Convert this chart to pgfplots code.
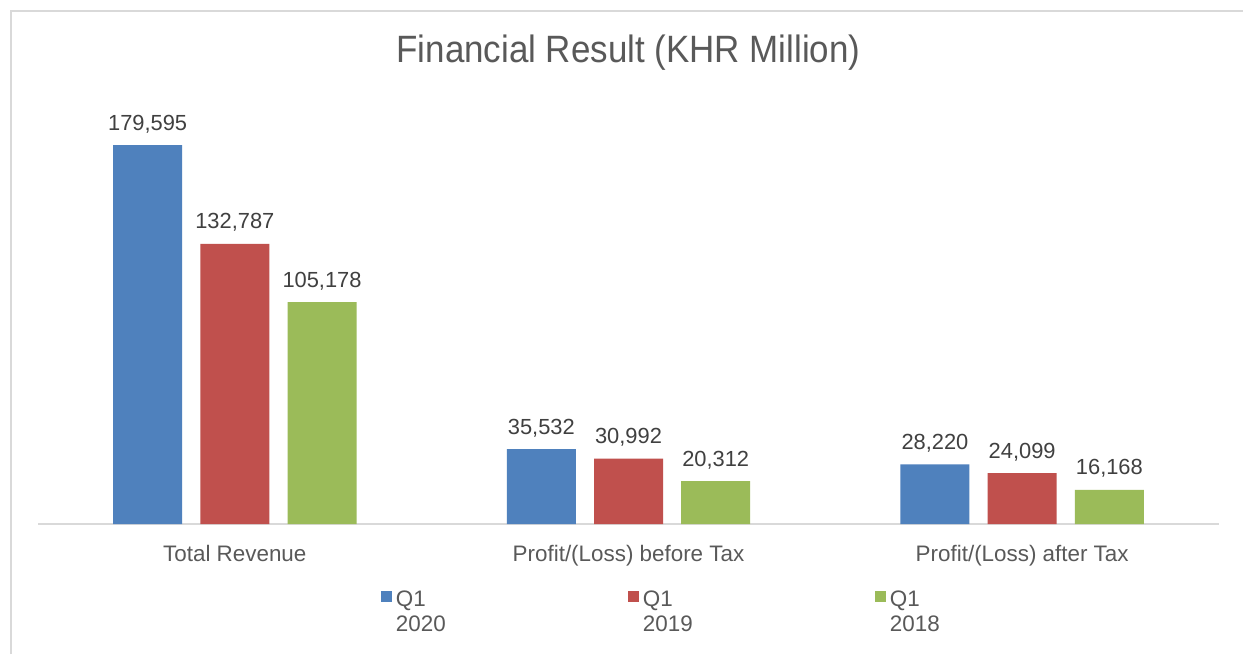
\documentclass[border=0pt]{standalone}
\usepackage{pgfplots}
\pgfplotsset{compat=1.18}
\usepackage{fontspec}
\setmainfont{Liberation Sans}
\usepackage{graphicx}
\definecolor{cblue}{HTML}{4F81BD}
\definecolor{cred}{HTML}{C0504D}
\definecolor{cgreen}{HTML}{9BBB59}
\definecolor{txtgray}{HTML}{595959}
\definecolor{lblgray}{HTML}{404040}
\definecolor{linegray}{HTML}{D9D9D9}
\newcommand{\vs}[1]{\scalebox{1}[1.09]{#1}}
\newcommand{\legtxt}[2]{\makebox[150pt][l]{\begin{tabular}[t]{@{}l@{}}#1\\#2\end{tabular}}}
\begin{document}
\begin{tikzpicture}
\fill[white] (0,0) rectangle (932.25pt,490.5pt);
\useasboundingbox (0,0) rectangle (932.25pt,490.5pt);
\draw[linegray, line width=1.5pt] (7.9pt,0) -- (7.9pt,482.25pt) -- (932.25pt,482.25pt);
\begin{axis}[
  at={(28.5pt,97.5pt)}, anchor=south west,
  scale only axis, width=885.75pt, height=316.5pt,
  xmin=-0.5, xmax=2.5, ymin=0, ymax=200000,
  hide y axis,
  axis x line*=bottom,
  x axis line style={-, draw=linegray, line width=1.1pt},
  xtick={0,1,2},
  xticklabels={Total Revenue,Profit/(Loss) before Tax,Profit/(Loss) after Tax},
  major tick length=0pt,
  xticklabel style={anchor=base, yshift=-27.75pt, inner sep=0pt, text=txtgray, font=\fontsize{16.8pt}{19pt}\selectfont},
  title={\vs{Financial Result (KHR Million)}},
  title style={at={(axis description cs:0.5,1.0737)}, anchor=base, inner sep=0pt, text=txtgray, font=\fontsize{26.2pt}{30pt}\selectfont},
  bar width=51.75pt,
  nodes near coords,
  every node near coord/.append style={/pgf/number format/fixed, /pgf/number format/precision=0, /pgf/number format/1000 sep={,},
    /pgf/number format/assume math mode=true,
    anchor=base, yshift=11.25pt, inner sep=0pt, text=lblgray, font=\fontsize{16.4pt}{19pt}\selectfont},
  legend columns=3,
  legend style={at={(axis description cs:0.2904,-0.1528)}, anchor=north west, draw=none, fill=none, inner sep=0pt, outer sep=0pt,
    font=\fontsize{16.8pt}{19pt}\selectfont, text=txtgray,
    nodes={inner sep=0pt, text=txtgray},
    /tikz/every odd column/.append style={column sep=3pt},
    /tikz/every even column/.append style={column sep=24pt}},
  legend cell align=left,
  legend image code/.code={\fill[#1] (0pt,-3pt) rectangle (8.25pt,5.25pt);},
]
\addplot[ybar, bar shift=-65.4pt, fill=cblue, draw=none, every node near coord/.append style={xshift=-65.4pt}] coordinates {(0,179595) (1,35532) (2,28220)};
\addlegendentry{\legtxt{Q1}{2020}}
\addplot[ybar, bar shift=0pt, fill=cred, draw=none] coordinates {(0,132787) (1,30992) (2,24099)};
\addlegendentry{\legtxt{Q1}{2019}}
\addplot[ybar, bar shift=65.4pt, fill=cgreen, draw=none, every node near coord/.append style={xshift=65.4pt}] coordinates {(0,105178) (1,20312) (2,16168)};
\addlegendentry{\legtxt{Q1}{2018}}
\end{axis}
\end{tikzpicture}
\end{document}
